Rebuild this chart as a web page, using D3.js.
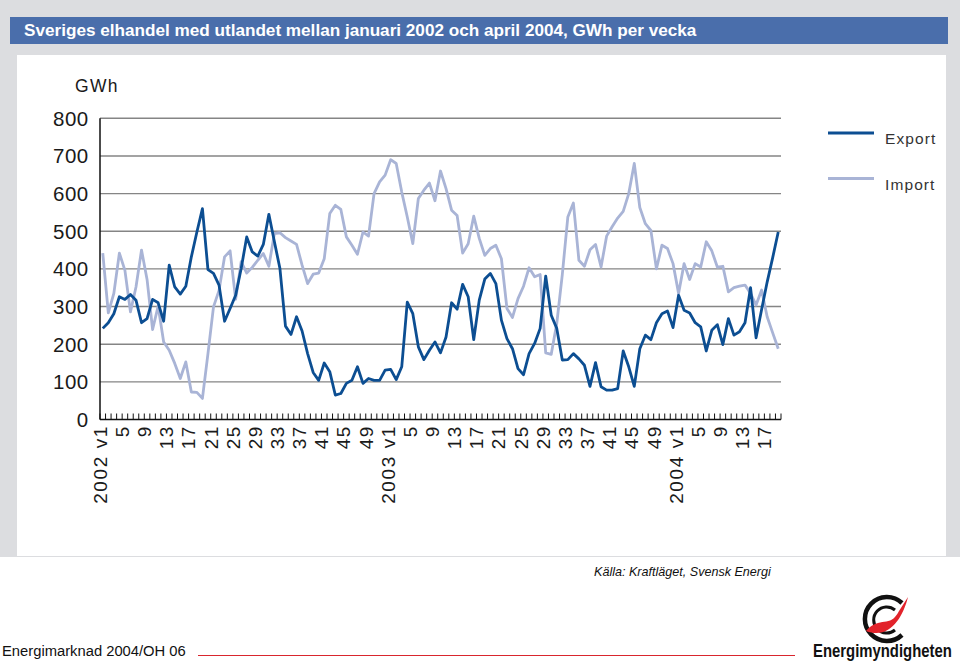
<!DOCTYPE html>
<html><head><meta charset="utf-8">
<script src="https://cdn.jsdelivr.net/npm/d3@7"></script>
<style>
body{margin:0;background:#fff}
svg{display:block}
text{font-family:"Liberation Sans",Arial,Helvetica,sans-serif}
</style>
</head><body>
<svg id="chart" width="960" height="662"></svg>
<script>
// ---- data ----
const years = [2002, 2003, 2004];
const weeksInYear = [52, 52, 19];
const seriesNames = ["Export", "Import"];
const exportValues = [
  242,257,281,326,319,332,317,257,268,319,310,261,410,352,333,354,432,498,560,398,
  388,357,261,295,330,401,485,445,434,465,545,472,401,248,226,273,235,175,125,104,
  150,127,65,69,96,104,140,96,109,104,104,131,133,106,140,312,281,193,159,184,
  206,177,219,310,293,359,326,212,317,373,388,361,264,215,188,135,119,175,202,242,
  381,277,242,158,159,175,161,144,88,151,87,78,78,82,182,140,88,188,224,212,
  257,281,288,244,330,290,283,257,246,182,237,252,199,268,224,233,257,350,217,292,
  365,430,498
];
const importValues = [
  442,283,335,442,396,286,352,450,372,239,301,206,184,149,109,153,73,72,56,175,
  299,343,432,448,319,419,389,404,423,441,407,494,496,483,474,465,410,361,386,389,
  427,547,569,558,485,463,439,498,487,600,631,649,690,680,604,538,467,587,609,628,
  581,660,613,556,542,442,467,540,481,436,454,463,427,295,271,321,354,403,379,385,
  177,173,255,385,538,575,423,407,451,465,405,487,512,535,553,600,680,563,520,502,
  400,463,454,414,335,414,372,414,405,472,448,405,407,339,350,354,357,335,304,344,
  273,230,188
];
const yTickValues = [0,100,200,300,400,500,600,700,800];
const xTickLabels = [
  {year:2002, week:1, label:"2002 v1"},{year:2002, week:5, label:"5"},{year:2002, week:9, label:"9"},
  {year:2002, week:13, label:"13"},{year:2002, week:17, label:"17"},{year:2002, week:21, label:"21"},
  {year:2002, week:25, label:"25"},{year:2002, week:29, label:"29"},{year:2002, week:33, label:"33"},
  {year:2002, week:37, label:"37"},{year:2002, week:41, label:"41"},{year:2002, week:45, label:"45"},
  {year:2002, week:49, label:"49"},
  {year:2003, week:1, label:"2003 v1"},{year:2003, week:5, label:"5"},{year:2003, week:9, label:"9"},
  {year:2003, week:13, label:"13"},{year:2003, week:17, label:"17"},{year:2003, week:21, label:"21"},
  {year:2003, week:25, label:"25"},{year:2003, week:29, label:"29"},{year:2003, week:33, label:"33"},
  {year:2003, week:37, label:"37"},{year:2003, week:41, label:"41"},{year:2003, week:45, label:"45"},
  {year:2003, week:49, label:"49"},
  {year:2004, week:1, label:"2004 v1"},{year:2004, week:5, label:"5"},{year:2004, week:9, label:"9"},
  {year:2004, week:13, label:"13"},{year:2004, week:17, label:"17"}
];

// categories: one per week
const categories = [];
years.forEach((y, yi) => { for (let w = 1; w <= weeksInYear[yi]; w++) categories.push(y + "-" + w); });

const rows = categories.map((c, i) => ({cat: c, exp: exportValues[i], imp: importValues[i]}));

// ---- layout ----
const svg = d3.select("#chart");
const C = {gray:"#dcdde0", bar:"#4a6eab", exp:"#0c4e92", imp:"#a9b4d6", grid:"#858585"};
const plot = {left:100, right:781, top:118.3, bottom:419.5};

// fit text horizontally to a target width via a scale transform
function fitText(sel, x0, y0, target) {
  const w = sel.node().getComputedTextLength();
  sel.attr("x", 0).attr("y", 0).attr("transform", `translate(${x0},${y0}) scale(${target / w},1)`);
}

svg.append("rect").attr("x",0).attr("y",0).attr("width",960).attr("height",557).attr("fill",C.gray);
svg.append("rect").attr("x",10).attr("y",17).attr("width",938).attr("height",27).attr("fill",C.bar);
const title = svg.append("text").attr("fill","#fff").attr("font-weight","bold").attr("font-size",16.5)
  .text("Sveriges elhandel med utlandet mellan januari 2002 och april 2004, GWh per vecka");
fitText(title, 24, 36, 673);
svg.append("rect").attr("x",17).attr("y",55).attr("width",929).attr("height",501).attr("fill","#fff");

const x = d3.scalePoint().domain(categories).range([plot.left, plot.right]).padding(0.5);
const y = d3.scaleLinear().domain([0,800]).range([plot.bottom, plot.top]);
const step = x.step();

// grid
svg.append("g").selectAll("line").data(yTickValues.filter(v => v > 0)).join("line")
  .attr("x1",plot.left).attr("x2",plot.right).attr("y1",d=>y(d)).attr("y2",d=>y(d))
  .attr("stroke",C.grid).attr("stroke-width",1.4);

// y labels
svg.append("g").selectAll("text").data(yTickValues).join("text")
  .attr("x",88.5).attr("y",d=>y(d)+7.3).attr("text-anchor","end")
  .attr("font-size",20.5).attr("letter-spacing",0.4).attr("fill","#1a1a1a").text(d=>d);

svg.append("text").attr("x",75).attr("y",92).attr("font-size",17.5).attr("letter-spacing",1.3)
  .attr("fill","#1a1a1a").text("GWh");

// lines
const lineExp = d3.line().x(d=>x(d.cat)).y(d=>y(d.exp));
const lineImp = d3.line().x(d=>x(d.cat)).y(d=>y(d.imp));
svg.append("path").datum(rows).attr("d",lineImp).attr("fill","none").attr("stroke",C.imp)
  .attr("stroke-width",2.8).attr("stroke-linejoin","round");
svg.append("path").datum(rows).attr("d",lineExp).attr("fill","none").attr("stroke",C.exp)
  .attr("stroke-width",2.8).attr("stroke-linejoin","round");

// axes
svg.append("line").attr("x1",plot.left).attr("x2",plot.left).attr("y1",plot.top).attr("y2",plot.bottom)
  .attr("stroke","#111").attr("stroke-width",1.5);
svg.append("line").attr("x1",plot.left).attr("x2",plot.right).attr("y1",plot.bottom).attr("y2",plot.bottom)
  .attr("stroke","#111").attr("stroke-width",1.5);
const boundaries = categories.map(c => x(c) - step/2).concat([x(categories[categories.length-1]) + step/2]);
svg.append("g").selectAll("line").data(boundaries).join("line")
  .attr("x1",d=>d).attr("x2",d=>d).attr("y1",plot.bottom).attr("y2",plot.bottom-6)
  .attr("stroke","#111").attr("stroke-width",1);

// x labels
svg.append("g").selectAll("text").data(xTickLabels).join("text")
  .attr("transform",d=>{const xx = x(d.year+"-"+d.week) - step/2; return `translate(${xx},425) rotate(-90)`;})
  .attr("dy","0.36em").attr("text-anchor","end").attr("font-size",19).attr("letter-spacing",1.6)
  .attr("fill","#1a1a1a").text(d=>d.label);

// legend
const legend = [{name:seriesNames[0], color:C.exp, y:133}, {name:seriesNames[1], color:C.imp, y:178.5}];
const lg = svg.append("g").selectAll("g").data(legend).join("g");
lg.append("line").attr("x1",828).attr("x2",874).attr("y1",d=>d.y).attr("y2",d=>d.y)
  .attr("stroke",d=>d.color).attr("stroke-width",2.8);
lg.append("text").attr("x",885).attr("y",d=>d.y+11).attr("font-size",15.5).attr("letter-spacing",1.1)
  .attr("fill","#333").text(d=>d.name);

// source and footer
const src = svg.append("text").attr("font-size",13).attr("font-style","italic").attr("fill","#111")
  .text("Källa: Kraftläget, Svensk Energi");
fitText(src, 594, 576, 177);
const foot = svg.append("text").attr("font-size",15.5).attr("fill","#111").text("Energimarknad 2004/OH 06");
fitText(foot, 2, 656, 184);
svg.append("line").attr("x1",198).attr("x2",795).attr("y1",655.5).attr("y2",655.5)
  .attr("stroke","#d9262e").attr("stroke-width",1.2);
const brand = svg.append("text").attr("font-size",18).attr("font-weight","bold").attr("fill","#111")
  .text("Energimyndigheten");
fitText(brand, 813, 657, 139);
// logo mark
const logo = svg.append("g");
logo.append("path").attr("d","M 902,603 A 22 22 0 1 0 902,635").attr("fill","none").attr("stroke","#111").attr("stroke-width",4.5);
logo.append("path").attr("d","M 895,610 A 13 13 0 1 0 895,630").attr("fill","none").attr("stroke","#111").attr("stroke-width",3);
logo.append("path").attr("d","M 866,631 C 880,615 890,629 899,611 L 908,597 C 903,617 890,640 866,631 Z").attr("fill","#e2232b");
</script>
</body></html>
